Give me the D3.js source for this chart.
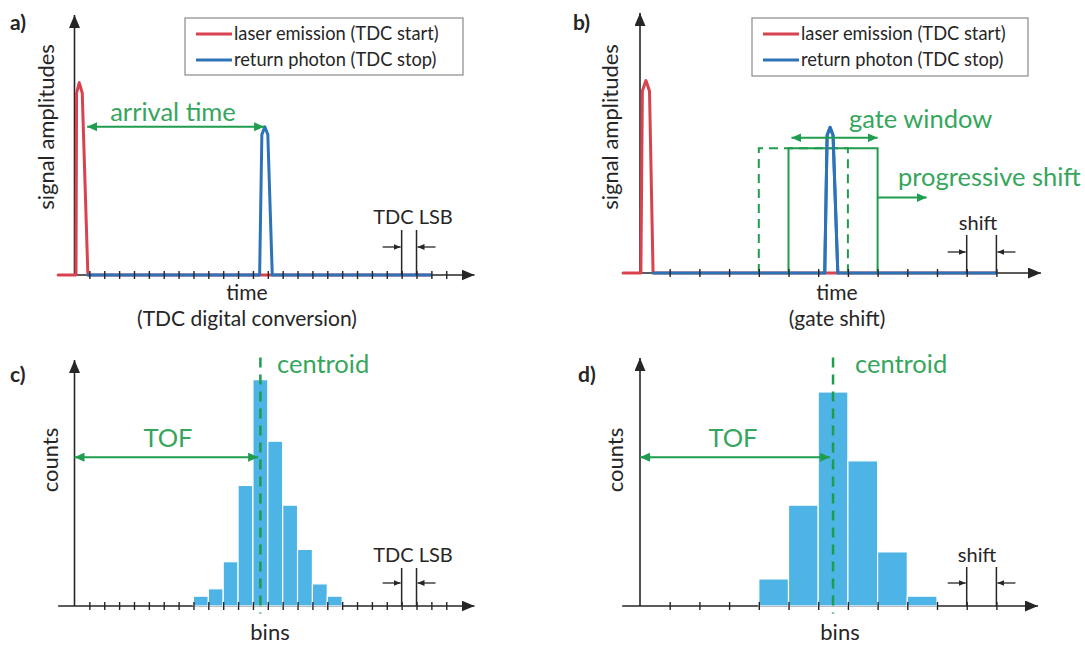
<!DOCTYPE html>
<html>
<head>
<meta charset="utf-8">
<script src="https://cdn.jsdelivr.net/npm/d3@7"></script>
<style>
body { margin: 0; background: #fff; }
text { font-family: Lato, "Open Sans", sans-serif; }
</style>
</head>
<body>
<div id="chart"></div>
<script>
// ---- values ----
const legendLabels = ["laser emission (TDC start)", "return photon (TDC stop)"];

// a) TDC digital conversion: time in TDC LSB units, amplitude 0..1
const ticksA = d3.range(1, 26);
const laserA = [[-1.1, 0], [0.1, 0], [0.14, 0.70], [0.32, 0.74], [0.52, 0.70], [0.9, 0], [24, 0]];
const photonA = [[0.9, 0], [12.45, 0], [12.6, 0.54], [12.8, 0.57], [13.0, 0.54], [13.3, 0], [24, 0]];
const lsbMarksA = [22, 23];

// b) gate shift: time in shift steps
const ticksB = d3.range(1, 13);
const laserB = [[-0.57, 0], [0.03, 0], [0.08, 0.70], [0.2, 0.74], [0.32, 0.70], [0.44, 0], [12, 0]];
const photonB = [[0.44, 0], [6.22, 0], [6.3, 0.53], [6.4, 0.56], [6.5, 0.53], [6.66, 0], [12, 0]];
const gateDashed = [4, 7];
const gateSolid = [5, 8];
const gateLevel = 0.48;
const gateArrow = [5.1, 8.0, 0.52];
const shiftArrow = [8.0, 9.65, 0.29];
const shiftMarksB = [11, 12];

// c) histogram, fine bins (one per TDC LSB)
const binStartC = 8;
const countsC = [4, 7, 18, 49, 92, 67, 41, 23, 9, 4];
const centroidC = 12.5;
const lsbMarksC = [22, 23];

// d) histogram, coarse bins (one per gate shift)
const binStartD = 4;
const countsD = [11, 41, 87, 59, 22, 4];
const centroidD = 6.5;
const shiftMarksD = [11, 12];

const tofLevel = 60.5;

// ---- colours ----
const red = "#d8434f", blue = "#2c73b8", green = "#1f9d4e", greenText = "#35a65c";
const barBlue = "#4eb3e5", ink = "#262626";

const svg = d3.select("#chart").append("svg")
    .attr("width", 1085)
    .attr("height", 646)
    .style("background", "#fff");

// arrow heads
const defs = svg.append("defs");
function arrowDef(id, color, w, h) {
    defs.append("marker")
        .attr("id", id)
        .attr("viewBox", `0 0 ${w} ${h}`)
        .attr("refX", w).attr("refY", h / 2)
        .attr("markerWidth", w).attr("markerHeight", h)
        .attr("markerUnits", "userSpaceOnUse")
        .attr("orient", "auto-start-reverse")
        .append("path")
        .attr("d", `M0,0 L${w},${h / 2} L0,${h} Z`)
        .attr("fill", color);
}
arrowDef("axisHead", ink, 13, 11);
arrowDef("greenHead", green, 10, 9);
arrowDef("smallHead", ink, 7, 6);

// scales per panel
const xA = d3.scaleLinear().domain([0, 25]).range([74.5, 74.5 + 25 * 14.87]);
const yA = d3.scaleLinear().domain([0, 1]).range([275, 15]);
const xB = d3.scaleLinear().domain([0, 12]).range([640, 640 + 12 * 29.7]);
const yB = d3.scaleLinear().domain([0, 1]).range([273, 13]);
const xC = xA;
const yC = d3.scaleLinear().domain([0, 100]).range([606, 360]);
const xD = xB;
const yD = d3.scaleLinear().domain([0, 100]).range([606, 360]);

function axisLines(x, y, tMin, tMax, yMax) {
    svg.append("line")
        .attr("x1", x(tMin)).attr("y1", y(0))
        .attr("x2", x(tMax)).attr("y2", y(0))
        .attr("stroke", ink).attr("stroke-width", 1.6)
        .attr("marker-end", "url(#axisHead)");
    svg.append("line")
        .attr("x1", x(0)).attr("y1", y(0))
        .attr("x2", x(0)).attr("y2", y(yMax))
        .attr("stroke", ink).attr("stroke-width", 1.6)
        .attr("marker-end", "url(#axisHead)");
}

function axisTicks(x, y, ticks) {
    svg.append("g")
        .attr("transform", `translate(0,${y(0)})`)
        .call(d3.axisBottom(x).tickValues(ticks).tickSize(4).tickFormat(""))
        .call(s => s.select(".domain").remove())
        .call(s => s.selectAll(".tick line")
            .attr("y1", -4)
            .attr("stroke", ink)
            .attr("stroke-width", 1.4));
}

function signal(x, y, pts, color) {
    const line = d3.line().x(d => x(d[0])).y(d => y(d[1]));
    svg.append("path")
        .attr("d", line(pts))
        .attr("fill", "none")
        .attr("stroke", color)
        .attr("stroke-width", 3)
        .attr("stroke-linejoin", "round")
        .attr("stroke-linecap", "round");
}

function greenArrow(x1, x2, yy, both) {
    svg.append("line")
        .attr("x1", x1).attr("y1", yy)
        .attr("x2", x2).attr("y2", yy)
        .attr("stroke", green).attr("stroke-width", 2)
        .attr("marker-start", both ? "url(#greenHead)" : null)
        .attr("marker-end", "url(#greenHead)");
}

function marks(x, y, m, topY, arrowY, label, labelY, labelX) {
    m.forEach(v => {
        svg.append("line")
            .attr("x1", x(v)).attr("y1", y(0))
            .attr("x2", x(v)).attr("y2", topY)
            .attr("stroke", ink).attr("stroke-width", 1.5);
    });
    [[x(m[0]) - 19, x(m[0]) - 1], [x(m[1]) + 19, x(m[1]) + 1]].forEach(([a, b]) => {
        svg.append("line")
            .attr("x1", a).attr("y1", arrowY)
            .attr("x2", b).attr("y2", arrowY)
            .attr("stroke", ink).attr("stroke-width", 1.3)
            .attr("marker-end", "url(#smallHead)");
    });
    text(labelX, labelY, label, 20, ink, "middle");
}

function text(x, y, s, size, color, anchor, weight) {
    return svg.append("text")
        .attr("x", x).attr("y", y)
        .attr("font-size", size)
        .attr("fill", color)
        .attr("text-anchor", anchor || "start")
        .attr("font-weight", weight || "normal")
        .text(s);
}

function vtext(x, y, s, size) {
    svg.append("text")
        .attr("transform", `translate(${x},${y}) rotate(-90)`)
        .attr("font-size", size)
        .attr("fill", ink)
        .attr("text-anchor", "middle")
        .text(s);
}

function legend(x0, y0, w, h) {
    svg.append("rect")
        .attr("x", x0).attr("y", y0)
        .attr("width", w).attr("height", h)
        .attr("fill", "#fff")
        .attr("stroke", "#8a8a8a").attr("stroke-width", 1.2);
    [red, blue].forEach((c, i) => {
        const yy = y0 + 16 + i * 26;
        svg.append("line")
            .attr("x1", x0 + 11).attr("x2", x0 + 47)
            .attr("y1", yy).attr("y2", yy)
            .attr("stroke", c).attr("stroke-width", 3);
        text(x0 + 49, yy + 6, legendLabels[i], 18.3, ink);
    });
}

function bars(x, y, start, counts) {
    svg.append("g")
        .selectAll("rect")
        .data(counts)
        .join("rect")
        .attr("x", (d, i) => x(start + i))
        .attr("y", d => y(d))
        .attr("width", (d, i) => x(start + i + 1) - x(start + i))
        .attr("height", d => y(0) - y(d))
        .attr("fill", barBlue)
        .attr("stroke", "#fff")
        .attr("stroke-width", 1.2);
}

function centroid(x, y, c) {
    svg.append("line")
        .attr("x1", x(c)).attr("x2", x(c))
        .attr("y1", y(101)).attr("y2", y(-3))
        .attr("stroke", green).attr("stroke-width", 2.5)
        .attr("stroke-dasharray", "10,7");
}

// ---- panel a ----
axisLines(xA, yA, -1.1, 26.9, 1);
signal(xA, yA, laserA, red);
signal(xA, yA, photonA, blue);
axisTicks(xA, yA, ticksA);
marks(xA, yA, lsbMarksA, 230, 247, "TDC LSB", 224, 413);
greenArrow(xA(0.85), xA(12.75), yA(0.57), true);
text(173, 121, "arrival time", 25.5, greenText, "middle");
legend(185, 18, 278, 57);
text(10, 30, "a)", 21, ink, "start", "bold");
vtext(54, 127, "signal amplitudes", 22);
text(247, 300, "time", 21, ink, "middle");
text(247, 326, "(TDC digital conversion)", 21, ink, "middle");

// ---- panel b ----
axisLines(xB, yB, -0.57, 13.5, 1);
signal(xB, yB, laserB, red);
signal(xB, yB, photonB, blue);
// previous gate position (dashed) and current gate (solid)
svg.append("path")
    .attr("d", d3.line()([[xB(gateDashed[0]), yB(0)], [xB(gateDashed[0]), yB(gateLevel)],
        [xB(gateDashed[1]), yB(gateLevel)], [xB(gateDashed[1]), yB(0)]]))
    .attr("fill", "none").attr("stroke", green).attr("stroke-width", 2)
    .attr("stroke-dasharray", "9,6");
svg.append("path")
    .attr("d", d3.line()([[xB(gateSolid[0]), yB(0)], [xB(gateSolid[0]), yB(gateLevel)],
        [xB(gateSolid[1]), yB(gateLevel)], [xB(gateSolid[1]), yB(0)]]))
    .attr("fill", "none").attr("stroke", green).attr("stroke-width", 2);
signal(xB, yB, photonB.slice(1, 6), blue);
axisTicks(xB, yB, ticksB);
marks(xB, yB, shiftMarksB, 235, 252, "shift", 230, 978);
greenArrow(xB(gateArrow[0]), xB(gateArrow[1]), yB(gateArrow[2]), true);
greenArrow(xB(shiftArrow[0]), xB(shiftArrow[1]), yB(shiftArrow[2]), false);
text(849, 128, "gate window", 25.5, greenText);
text(898, 186, "progressive shift", 25.5, greenText);
legend(752, 18, 276, 58);
text(573, 30, "b)", 21, ink, "start", "bold");
vtext(618, 127, "signal amplitudes", 22);
text(837, 300, "time", 21, ink, "middle");
text(837, 326, "(gate shift)", 21, ink, "middle");

// ---- panel c ----
axisLines(xC, yC, -1.1, 26.9, 100);
bars(xC, yC, binStartC, countsC);
axisTicks(xC, yC, ticksA);
centroid(xC, yC, centroidC);
marks(xC, yC, lsbMarksC, 568, 583, "TDC LSB", 562, 413);
greenArrow(xC(0), xC(centroidC - 0.15), yC(tofLevel), true);
text(168, 447, "TOF", 25.5, greenText, "middle");
text(277, 373, "centroid", 25.5, greenText);
text(10, 382, "c)", 21, ink, "start", "bold");
vtext(58, 460, "counts", 22);
text(270, 640, "bins", 22, ink, "middle");

// ---- panel d ----
axisLines(xD, yD, -0.6, 13.4, 100.8);
bars(xD, yD, binStartD, countsD);
axisTicks(xD, yD, ticksB);
centroid(xD, yD, centroidD);
marks(xD, yD, shiftMarksD, 567, 583, "shift", 562, 977);
greenArrow(xD(0), xD(centroidD - 0.1), yD(tofLevel), true);
text(733, 447, "TOF", 25.5, greenText, "middle");
text(855, 373, "centroid", 25.5, greenText);
text(578, 382, "d)", 21, ink, "start", "bold");
vtext(623, 460, "counts", 22);
text(840, 640, "bins", 22, ink, "middle");
</script>
</body>
</html>
